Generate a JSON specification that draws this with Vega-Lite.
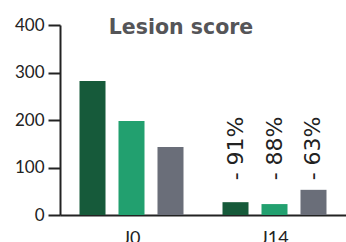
{
  "$schema": "https://vega.github.io/schema/vega-lite/v6.json",
  "width": 286,
  "height": 190,
  "autosize": "none",
  "padding": {"left": 60, "top": 25, "right": 0, "bottom": 27},
  "config": {"view": {"stroke": null}, "font": "Lato"},
  "title": {"text": "Lesion score", "fontSize": 20.5, "fontWeight": "bold", "color": "#555558", "anchor": "middle", "dx": -22, "offset": -22, "font": "DejaVu Sans"},
  "data": {"values": [
    {"day": "J0", "group": "A", "score": 282, "label": ""},
    {"day": "J0", "group": "B", "score": 198, "label": ""},
    {"day": "J0", "group": "C", "score": 143, "label": ""},
    {"day": "J14", "group": "A", "score": 27, "label": "- 91%"},
    {"day": "J14", "group": "B", "score": 23, "label": "- 88%"},
    {"day": "J14", "group": "C", "score": 53, "label": "- 63%"}
  ]},
  "encoding": {
    "x": {"field": "day", "type": "nominal", "scale": {"paddingInner": 0, "paddingOuter": 0},
      "axis": {"title": null, "labelAngle": 0, "domainColor": "#222", "domainWidth": 2, "ticks": false, "labelFontSize": 18, "labelPadding": 14, "labelColor": "#222"}},
    "xOffset": {"field": "group", "type": "nominal", "scale": {"paddingInner": 0.333, "paddingOuter": 0.5}}
  },
  "layer": [
    {
      "mark": {"type": "bar"},
      "encoding": {
        "y": {"field": "score", "type": "quantitative", "scale": {"domain": [0, 400]},
          "axis": {"title": null, "values": [0, 100, 200, 300, 400], "grid": false, "domainColor": "#222", "domainWidth": 2, "tickColor": "#222", "tickWidth": 2, "tickSize": 12, "labelFontSize": 17, "labelPadding": 4, "labelColor": "#222"}},
        "color": {"field": "group", "type": "nominal", "scale": {"domain": ["A", "B", "C"], "range": ["#165a3a", "#22a06f", "#6a6e79"]}, "legend": null}
      }
    },
    {
      "transform": [{"filter": "datum.label != ''"}],
      "mark": {"type": "text", "angle": 270, "align": "left", "baseline": "middle", "fontSize": 22, "color": "#222", "font": "DejaVu Sans"},
      "encoding": {
        "y": {"datum": 73, "type": "quantitative"},
        "text": {"field": "label"}
      }
    }
  ]
}
